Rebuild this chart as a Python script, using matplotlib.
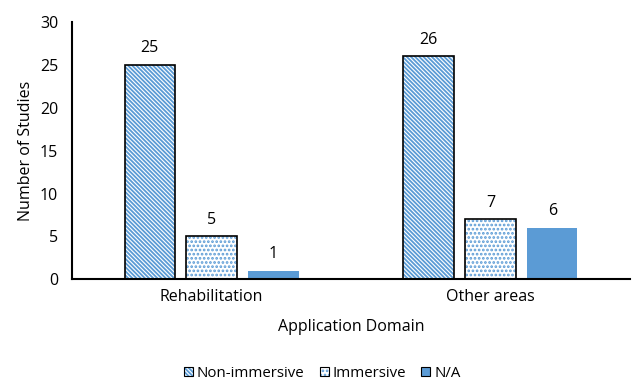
import numpy as np
import matplotlib.pyplot as plt
from matplotlib.patches import Patch
from matplotlib.legend_handler import HandlerTuple

plt.rcParams['font.family'] = ['Open Sans', 'DejaVu Sans']
plt.rcParams['hatch.linewidth'] = 1.3

domains = ['Rehabilitation', 'Other areas']
series = ['Non-immersive', 'Immersive', 'N/A']
non_immersive = [25, 26]
immersive = [5, 7]
not_available = [1, 6]

blue = '#5B9BD5'
hatches = ['\\' * 8, '.' * 4, None]
values = [non_immersive, immersive, not_available]

fig, ax = plt.subplots(figsize=(6.33, 3.8), dpi=100)
fig.subplots_adjust(left=0.114, right=0.995, top=0.942, bottom=0.265)

x = np.arange(len(domains))
width = 0.18
step = 0.222

handles = []
for i, (name, vals, h) in enumerate(zip(series, values, hatches)):
    pos = x + (i - 1) * step
    if h is None:
        ax.bar(pos, vals, width, color=blue, linewidth=0)
        handles.append(Patch(facecolor=blue, edgecolor='black', linewidth=0.8))
    else:
        # hatch in blue, outline drawn separately in black
        ax.bar(pos, vals, width, facecolor='white', edgecolor=blue,
               hatch=h, linewidth=0)
        ax.bar(pos, vals, width, fill=False, edgecolor='black', linewidth=1.2)
        handles.append((Patch(facecolor='white', edgecolor=blue, hatch=h, linewidth=0),
                        Patch(fill=False, edgecolor='black', linewidth=0.8)))
    for p, v in zip(pos, vals):
        ax.text(p, v + 1.0, str(v), ha='center', va='bottom', fontsize=11.5)

ax.set_xlim(-0.5, 1.5)
ax.set_ylim(0, 30)
ax.set_yticks(range(0, 31, 5))
ax.set_xticks(x)
ax.set_xticklabels(domains)
ax.tick_params(axis='both', length=0, labelsize=11.5)
ax.tick_params(axis='x', pad=7)
ax.tick_params(axis='y', pad=10)
ax.spines['top'].set_visible(False)
ax.spines['right'].set_visible(False)
ax.spines['left'].set_linewidth(1.5)
ax.spines['bottom'].set_linewidth(1.5)
ax.set_ylabel('Number of Studies', fontsize=11.5, labelpad=4)
ax.set_xlabel('Application Domain', fontsize=11.5, labelpad=10)

fig.legend(handles=handles, labels=series, loc='center',
           bbox_to_anchor=(0.509, 0.018), ncol=3, frameon=False, fontsize=10.8,
           handlelength=0.6, handleheight=0.6, handletextpad=0.27, columnspacing=1.0,
           borderpad=0, handler_map={tuple: HandlerTuple(ndivide=1, pad=0)})

fig.savefig('out.png', dpi=100)
